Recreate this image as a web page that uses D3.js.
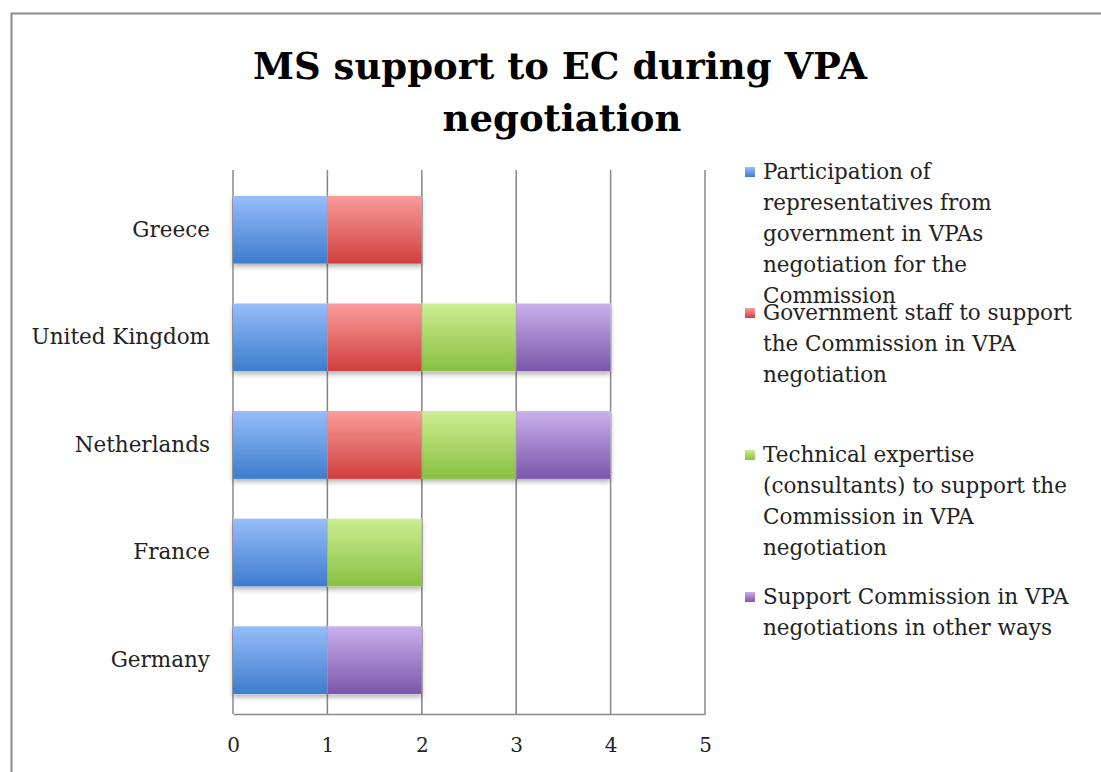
<!DOCTYPE html>
<html>
<head>
<meta charset="utf-8">
<script src="https://cdn.jsdelivr.net/npm/d3@7"></script>
<style>
  body { margin: 0; background: #fff; }
  svg text { font-family: "DejaVu Serif", serif; fill: #222; }
</style>
</head>
<body>
<div id="chart"></div>
<script>
// data
var countries = ["Greece", "United Kingdom", "Netherlands", "France", "Germany"];
var seriesNames = [
  "Participation of representatives from government in VPAs negotiation for the Commission",
  "Government staff to support the Commission in VPA negotiation",
  "Technical expertise (consultants) to support the Commission in VPA negotiation",
  "Support Commission in VPA negotiations in other ways"
];
var legendLines = [
  ["Participation of", "representatives from", "government in VPAs", "negotiation for the", "Commission"],
  ["Government staff to support", "the Commission in VPA", "negotiation"],
  ["Technical expertise", "(consultants) to support the", "Commission in VPA", "negotiation"],
  ["Support Commission in VPA", "negotiations in other ways"]
];
var participation = [1, 1, 1, 1, 1];
var govStaff      = [1, 1, 1, 0, 0];
var technical     = [0, 1, 1, 1, 0];
var otherWays     = [0, 1, 1, 0, 1];
var xTicks = [0, 1, 2, 3, 4, 5];
var colorsTop    = ["#97bdfa", "#fa9c9c", "#cbee92", "#c9b0ec"];
var colorsBottom = ["#3d7ccd", "#cf3f3d", "#8abf42", "#7c55a9"];

var WIDTH = 1101, HEIGHT = 772;
var svg = d3.select("#chart").append("svg")
  .attr("width", WIDTH).attr("height", HEIGHT);

var defs = svg.append("defs");
colorsTop.forEach(function(c, i) {
  var gr = defs.append("linearGradient").attr("id", "grad" + i)
    .attr("x1", 0).attr("y1", 0).attr("x2", 0).attr("y2", 1);
  gr.append("stop").attr("offset", "0%").attr("stop-color", c);
  gr.append("stop").attr("offset", "100%").attr("stop-color", colorsBottom[i]);
});
var f = defs.append("filter").attr("id", "shadow")
  .attr("x", "-10%").attr("y", "-10%").attr("width", "120%").attr("height", "140%");
f.append("feDropShadow").attr("dx", 0).attr("dy", 3).attr("stdDeviation", 2.5)
  .attr("flood-color", "#000").attr("flood-opacity", 0.3);

// outer frame
svg.append("rect").attr("x", 11.5).attr("y", 13.5)
  .attr("width", 1200).attr("height", 900)
  .attr("fill", "none").attr("stroke", "#8c8c8c").attr("stroke-width", 2);

// title
var title = svg.append("text").attr("text-anchor", "middle")
  .style("font-weight", "bold").style("font-size", "37px").style("fill", "#000");
title.append("tspan").attr("x", 560).attr("y", 79).text("MS support to EC during VPA");
title.append("tspan").attr("x", 562).attr("y", 131).text("negotiation");

// scales
var plot = { left: 233, right: 705, top: 176, bottom: 714 };
var x = d3.scaleLinear().domain([0, 5]).range([plot.left, plot.right]);
var y = d3.scaleBand().domain(countries).range([plot.top, plot.bottom]).paddingInner(0.37).paddingOuter(0.185);

// gridlines
svg.append("g").selectAll("line").data(xTicks).enter().append("line")
  .attr("x1", function(d) { return x(d); }).attr("x2", function(d) { return x(d); })
  .attr("y1", plot.top - 6).attr("y2", plot.bottom)
  .attr("stroke", "#8a8a8a").attr("stroke-width", 1.5);

// x axis
var xAxis = svg.append("g").attr("transform", "translate(0," + plot.bottom + ")")
  .call(d3.axisBottom(x).tickValues(xTicks).tickSize(0).tickPadding(24).tickFormat(d3.format("d")));
xAxis.select(".domain").attr("stroke", "#8a8a8a").attr("stroke-width", 1.5);
xAxis.selectAll("text").style("font-family", "DejaVu Serif, serif").style("font-size", "20px").attr("fill", "#222");

// y labels
var yAxis = svg.append("g").attr("transform", "translate(" + (plot.left) + ",0)")
  .call(d3.axisLeft(y).tickSize(0).tickPadding(23));
yAxis.select(".domain").remove();
yAxis.selectAll("text").style("font-family", "DejaVu Serif, serif").style("font-size", "21.5px").attr("fill", "#222");

// stacked bars
var rows = countries.map(function(c, i) {
  return { country: c, s0: participation[i], s1: govStaff[i], s2: technical[i], s3: otherWays[i] };
});
var stack = d3.stack().keys(["s0", "s1", "s2", "s3"])(rows);

var barsG = svg.append("g");
// shadows first
barsG.append("g").selectAll("rect").data(rows).enter().append("rect")
  .attr("x", x(0))
  .attr("y", function(d) { return y(d.country); })
  .attr("width", function(d) { return x(d.s0 + d.s1 + d.s2 + d.s3) - x(0); })
  .attr("height", y.bandwidth())
  .attr("fill", "#fff").attr("filter", "url(#shadow)");
stack.forEach(function(layer, i) {
  barsG.append("g").attr("fill", "url(#grad" + i + ")")
    .selectAll("rect").data(layer.filter(function(d) { return d[1] > d[0]; })).enter().append("rect")
    .attr("x", function(d) { return x(d[0]); })
    .attr("y", function(d) { return y(d.data.country); })
    .attr("width", function(d) { return x(d[1]) - x(d[0]); })
    .attr("height", y.bandwidth());
});
// gridlines visible through bar joins
svg.append("g").selectAll("line").data([1, 2, 3]).enter().append("line")
  .attr("x1", function(d) { return x(d); }).attr("x2", function(d) { return x(d); })
  .attr("y1", plot.top).attr("y2", plot.bottom)
  .attr("stroke", "#7a7a7a").attr("stroke-opacity", 0.35).attr("stroke-width", 1);

// legend
var legendTop = [172, 313, 455, 597];
var lg = svg.append("g");
legendLines.forEach(function(lines, i) {
  lg.append("rect").attr("x", 745).attr("y", legendTop[i] - 5).attr("width", 10).attr("height", 10)
    .attr("fill", "url(#grad" + i + ")");
  var t = lg.append("text").style("font-size", "21.5px");
  lines.forEach(function(l, j) {
    t.append("tspan").attr("x", 763).attr("y", legendTop[i] + 7 + j * 31).text(l);
  });
});
</script>
</body>
</html>
